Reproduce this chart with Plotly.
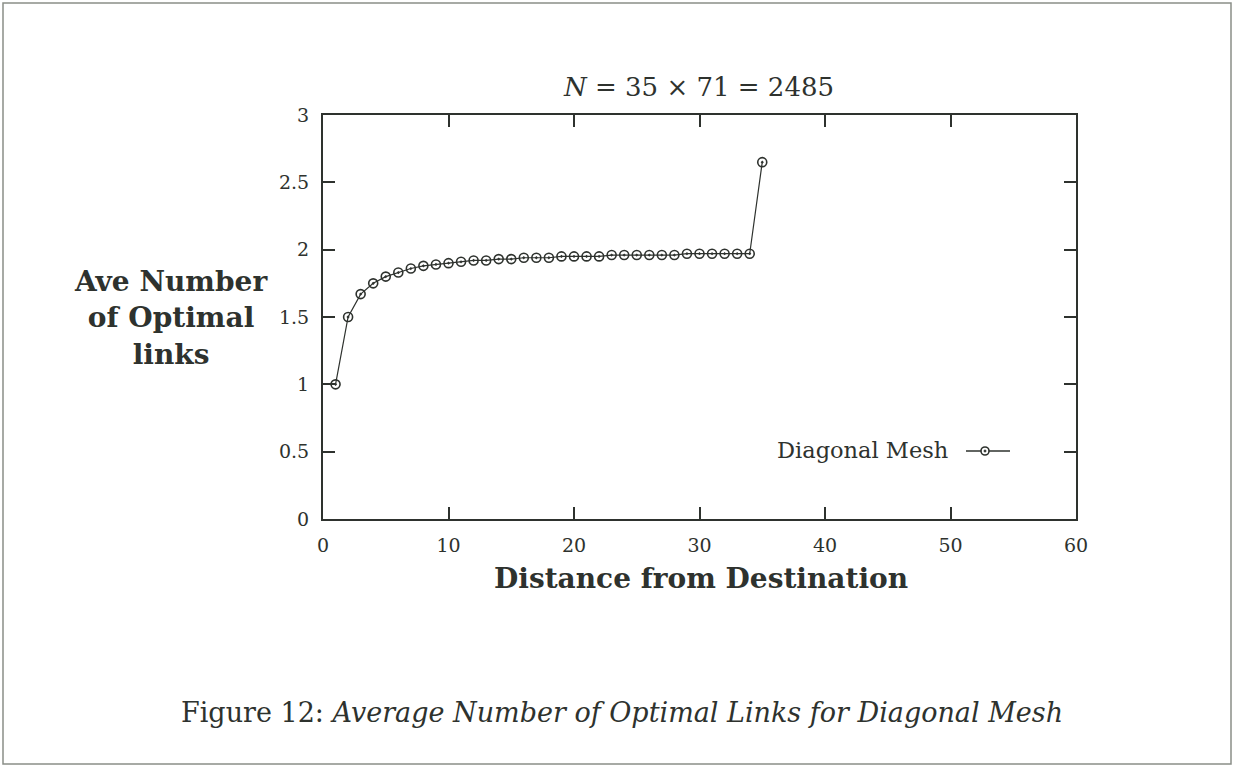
import plotly.graph_objects as go

# Average number of optimal links vs distance, diagonal mesh, N = 35 x 71
distance = list(range(1, 36))
ave_links = [1.00, 1.50, 1.67, 1.75, 1.80, 1.83, 1.86, 1.88, 1.89, 1.90,
             1.91, 1.92, 1.92, 1.93, 1.93, 1.94, 1.94, 1.94, 1.95, 1.95,
             1.95, 1.95, 1.96, 1.96, 1.96, 1.96, 1.96, 1.96, 1.97, 1.97,
             1.97, 1.97, 1.97, 1.97, 2.65]
x_ticks = [0, 10, 20, 30, 40, 50, 60]
y_ticks = [0, 0.5, 1, 1.5, 2, 2.5, 3]
y_tick_text = ["0", "0.5", "1", "1.5", "2", "2.5", "3"]

W, H = 1233, 767
L, R, T, B = 323, 1076, 115, 519
FONT = "DejaVu Serif"
INK = "#2e322e"


def px(xp):
    return (xp - L) / (R - L)


def py(yp):
    return (B - yp) / (B - T)


fig = go.Figure()
fig.add_trace(go.Scatter(
    x=distance, y=ave_links, mode="lines+markers",
    line=dict(color=INK, width=1.2),
    marker=dict(symbol="circle-open-dot", size=9, color=INK,
                line=dict(color=INK, width=1.6)),
    showlegend=False,
))

axis_common = dict(
    showline=True, linecolor=INK, linewidth=2, mirror="ticks",
    ticks="inside", ticklen=12, tickwidth=1.5, tickcolor=INK,
    showgrid=False, zeroline=False,
    tickfont=dict(family=FONT, size=19, color=INK),
)

fig.update_xaxes(range=[0, 60], tickvals=x_ticks, ticklabelstandoff=8,
                 **axis_common)
fig.update_yaxes(range=[0, 3], tickvals=y_ticks, ticktext=y_tick_text,
                 ticklabelstandoff=8, **axis_common)

annotations = [
    dict(text="<i>N</i> = 35 × 71 = 2485", x=px(698), y=py(87),
         font=dict(family=FONT, size=26, color=INK)),
    dict(text="<b>Ave Number<br>of Optimal<br>links</b>", x=px(171), y=py(318),
         font=dict(family=FONT, size=28, color=INK)),
    dict(text="<b>Distance from Destination</b>", x=px(701), y=py(578),
         font=dict(family=FONT, size=28, color=INK)),
    dict(text="Diagonal Mesh", x=px(950), y=py(450), xanchor="right",
         font=dict(family=FONT, size=22.5, color=INK)),
    dict(text="Figure 12: <i>Average Number of Optimal Links for Diagonal Mesh</i>",
         x=px(622), y=py(712),
         font=dict(family=FONT, size=27, color=INK)),
]
for a in annotations:
    a.setdefault("xanchor", "center")
    a.update(xref="paper", yref="paper", yanchor="middle", showarrow=False)

shapes = [
    # legend sample line with marker
    dict(type="line", xref="paper", yref="paper",
         x0=px(966), x1=px(1010), y0=py(451), y1=py(451),
         line=dict(color=INK, width=1.5)),
    dict(type="circle", xref="paper", yref="paper",
         x0=px(981), x1=px(989), y0=py(455), y1=py(447),
         line=dict(color=INK, width=1.6), fillcolor="white"),
    dict(type="circle", xref="paper", yref="paper",
         x0=px(984), x1=px(986), y0=py(452), y1=py(450),
         line=dict(color=INK, width=1), fillcolor=INK),
    # page frame
    dict(type="rect", xref="paper", yref="paper",
         x0=px(3), x1=px(1231), y0=py(764), y1=py(3),
         line=dict(color="#8a8f88", width=1.5)),
]

fig.update_layout(
    width=W, height=H,
    margin=dict(l=L, r=W - R, t=T, b=H - B),
    paper_bgcolor="white", plot_bgcolor="white",
    annotations=annotations, shapes=shapes,
    font=dict(family=FONT, color=INK),
)

fig.write_html("out.html")
